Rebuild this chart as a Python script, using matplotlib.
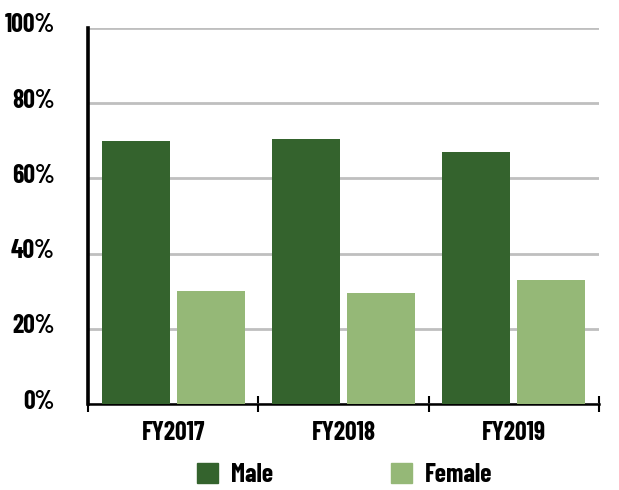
import matplotlib
matplotlib.use("Agg")
import matplotlib.pyplot as plt
import matplotlib.transforms as mtransforms
from matplotlib.ticker import FixedLocator, PercentFormatter
from matplotlib.patches import Patch

# 数据
years = ["FY2017", "FY2018", "FY2019"]
male = [69.9, 70.5, 67.0]
female = [30.1, 29.5, 33.0]
yticks = [0, 20, 40, 60, 80, 100]

MALE_COLOR = "#34632d"
FEMALE_COLOR = "#95b877"

plt.rcParams['font.family'] = ['Barlow Condensed', 'DejaVu Sans']
plt.rcParams['font.stretch'] = 'condensed'
plt.rcParams['font.weight'] = 'bold'

FS = 18.5

fig = plt.figure(figsize=(6.19, 4.90), dpi=100)
ax = fig.add_axes([0.1422, 0.1755, 0.8255, 0.7674])

x = list(range(len(years)))
w = 0.4
ax.bar([i - 0.22 for i in x], male, width=w, color=MALE_COLOR, zorder=3)
ax.bar([i + 0.22 for i in x], female, width=w, color=FEMALE_COLOR, zorder=3)

ax.set_xlim(-0.5, len(years) - 0.5)
ax.set_ylim(0, 100)

# y轴
ax.yaxis.set_major_locator(FixedLocator(yticks))
ax.yaxis.set_major_formatter(PercentFormatter(decimals=0))
ax.tick_params(axis='y', length=0, pad=24, labelsize=FS)
ax.grid(axis='y', color='#bfbfbf', linewidth=2.0, zorder=0)
offset = mtransforms.ScaledTranslation(0, 5 / 100, fig.dpi_scale_trans)
for lbl in ax.get_yticklabels():
    lbl.set_transform(lbl.get_transform() + offset)
    lbl.set_fontweight('bold')

# x轴: 标签居中，刻度在分组边界
ax.xaxis.set_major_locator(FixedLocator(x))
ax.set_xticklabels(years, fontweight='bold')
ax.xaxis.set_minor_locator(FixedLocator([i - 0.5 for i in range(len(years) + 1)]))
ax.tick_params(axis='x', which='major', length=0, pad=12, labelsize=FS)
ax.tick_params(axis='x', which='minor', direction='inout', length=11, width=1.5, color='black')

for side in ['top', 'right']:
    ax.spines[side].set_visible(False)
ax.spines['left'].set_linewidth(2.6)
ax.spines['bottom'].set_linewidth(1.8)
ax.set_axisbelow(True)

handles = [Patch(color=MALE_COLOR, label="Male"), Patch(color=FEMALE_COLOR, label="Female")]
fig.legend(handles=handles, loc='center left', bbox_to_anchor=(197 / 619, 0.03), ncol=2,
           frameon=False, fontsize=FS, handlelength=0.82, handleheight=0.82,
           handletextpad=0.5, columnspacing=4.6, borderpad=0, borderaxespad=0)

fig.savefig("out.png", dpi=100)
